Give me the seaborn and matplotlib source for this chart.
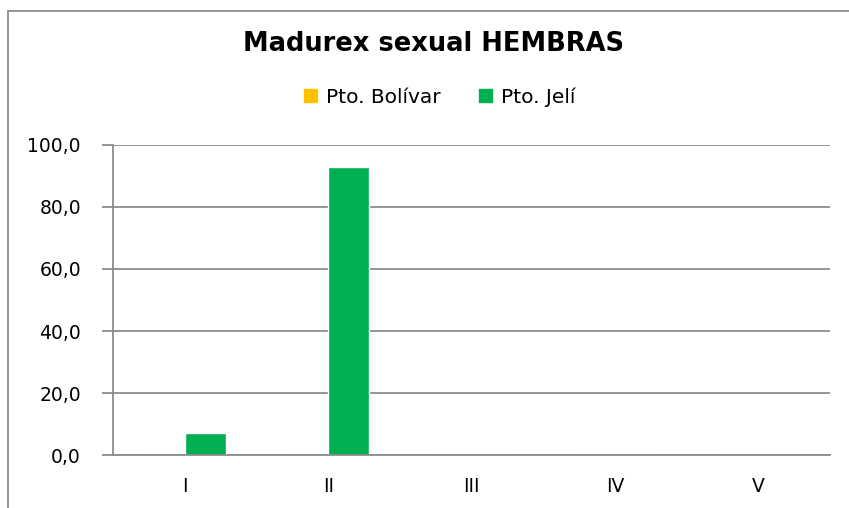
import pandas as pd
import matplotlib.pyplot as plt
import seaborn as sns
from matplotlib.patches import Rectangle
from matplotlib.ticker import FuncFormatter

# Datos del gráfico
estadios = ["I", "II", "III", "IV", "V"]
pto_bolivar = [0.0, 0.0, 0.0, 0.0, 0.0]
pto_jeli = [7.1, 92.9, 0.0, 0.0, 0.0]
series = ["Pto. Bolívar", "Pto. Jelí"]
colores = ["#FFC000", "#00B050"]

df = pd.DataFrame({
    "Estadio": estadios * 2,
    "Serie": [series[0]] * len(estadios) + [series[1]] * len(estadios),
    "Porcentaje": pto_bolivar + pto_jeli,
})

sns.set_theme(style="white")
plt.rcParams['font.family'] = ['DejaVu Sans']
plt.rcParams['text.color'] = 'black'
plt.rcParams['xtick.color'] = 'black'
plt.rcParams['ytick.color'] = 'black'

fig = plt.figure(figsize=(8.49, 5.08), dpi=100)
ax = fig.add_axes([0.133, 0.1043, 0.845, 0.6103])

sns.barplot(data=df, x="Estadio", y="Porcentaje", hue="Serie",
            palette=colores, width=0.57, ax=ax, legend=False, saturation=1)

ax.set_ylim(0, 100)
ax.set_yticks([0, 20, 40, 60, 80, 100])
ax.yaxis.set_major_formatter(FuncFormatter(lambda v, p: f"{v:.1f}".replace(".", ",")))
ax.grid(axis="y", color="#8c8c8c", linewidth=1.3)
ax.set_axisbelow(True)
ax.set_xlabel("")
ax.set_ylabel("")

for s in ["top", "right"]:
    ax.spines[s].set_visible(False)
for s in ["left", "bottom"]:
    ax.spines[s].set_color("#8c8c8c")
    ax.spines[s].set_linewidth(1.3)

ax.tick_params(axis="y", length=8, color="#8c8c8c", width=1.3, labelsize=13.5,
               labelcolor="black", pad=15, left=True)
ax.tick_params(axis="x", length=0, labelsize=13.5, labelcolor="black", pad=16)

# Título y leyenda
fig.text(0.511, 0.913, "Madurex sexual HEMBRAS", ha="center", va="center",
         fontsize=18.5, fontweight="bold", color="black")
handles = [Rectangle((0, 0), 1, 1, color=c) for c in colores]
fig.legend(handles, series, loc="center", bbox_to_anchor=(0.518, 0.809), ncol=2,
           frameon=False, fontsize=14.5, handlelength=0.65, handleheight=0.65,
           handletextpad=0.45, columnspacing=1.9, labelcolor="black")

# Borde del área del gráfico
fig.patches.append(Rectangle((8 / 849, -0.1), 1.2, 1 - 11 / 508 + 0.1, transform=fig.transFigure,
                             fill=False, edgecolor="#8c8c8c", linewidth=1.3))

fig.savefig("out.png", dpi=100)
